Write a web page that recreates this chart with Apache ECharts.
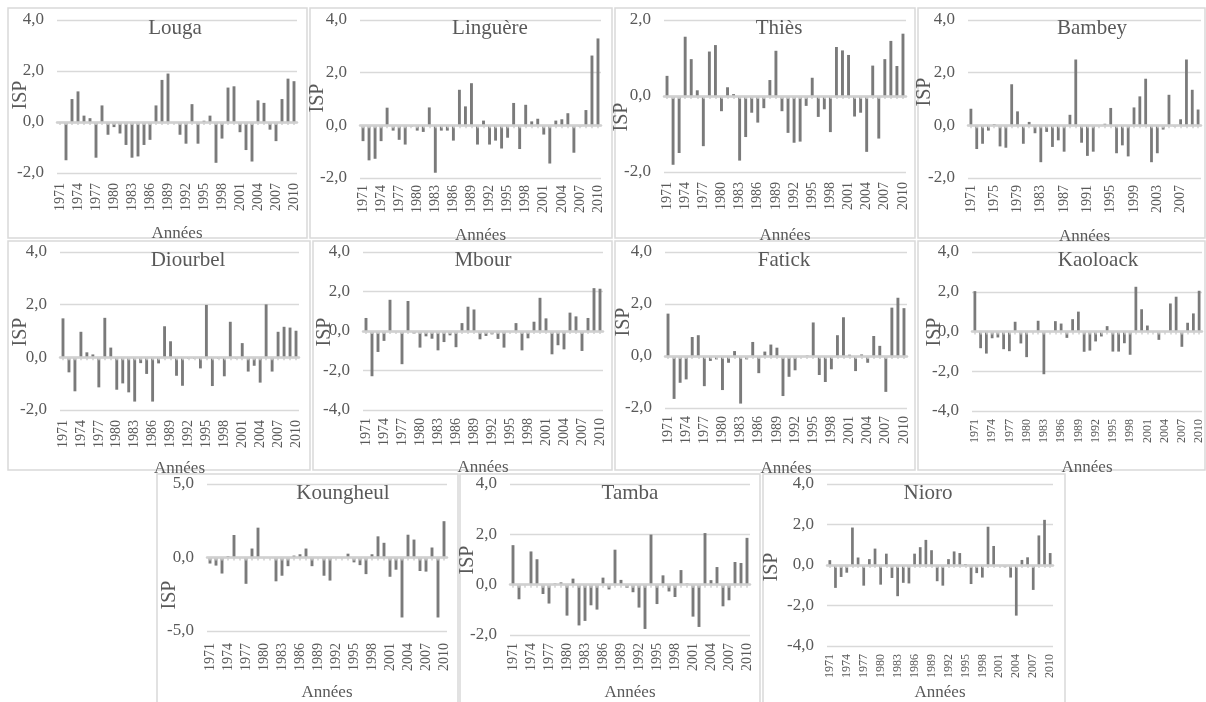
<!DOCTYPE html>
<html><head><meta charset="utf-8">
<script src="https://cdn.jsdelivr.net/npm/echarts@6/dist/echarts.min.js"></script>
<style>html,body{margin:0;padding:0;background:#fff}#c{width:1206px;height:702px}</style>
</head><body><div id="c"></div>
<script>
const years = ['1971','1972','1973','1974','1975','1976','1977','1978','1979','1980','1981','1982','1983','1984','1985','1986','1987','1988','1989','1990','1991','1992','1993','1994','1995','1996','1997','1998','1999','2000','2001','2002','2003','2004','2005','2006','2007','2008','2009','2010'];
const louga = [0.0,-1.5,0.9,1.2,0.25,0.15,-1.4,0.65,-0.5,-0.2,-0.45,-0.9,-1.4,-1.35,-0.9,-0.7,0.65,1.65,1.9,0.0,-0.5,-0.85,0.7,-0.85,0.05,0.25,-1.6,-0.65,1.35,1.4,-0.4,-1.1,-1.55,0.85,0.75,-0.3,-0.75,0.9,1.7,1.6];
const linguere = [-0.6,-1.33,-1.27,-0.6,0.67,-0.2,-0.55,-0.73,-0.05,-0.2,-0.25,0.68,-1.8,-0.2,-0.2,-0.58,1.35,0.72,1.6,-0.73,0.18,-0.73,-0.58,-0.88,-0.47,0.85,-0.9,0.78,0.15,0.25,-0.35,-1.45,0.18,0.23,0.46,-1.04,-0.05,0.58,2.65,3.3];
const thies = [0.53,-1.81,-1.5,1.56,0.97,0.15,-1.32,1.17,1.34,-0.4,0.23,0.05,-1.7,-1.08,-0.44,-0.7,-0.32,0.42,1.19,-0.4,-0.97,-1.23,-1.2,-0.26,0.48,-0.55,-0.35,-0.95,1.29,1.2,1.08,-0.54,-0.44,-1.47,0.8,-1.12,0.97,1.45,0.79,1.64];
const bambey = [0.63,-0.9,-0.7,-0.2,0.05,-0.8,-0.85,1.56,0.53,-0.7,0.13,-0.3,-1.4,-0.25,-0.82,-0.57,-1.0,0.4,2.5,-0.66,-1.16,-1.0,0.0,0.06,0.66,-1.06,-0.76,-1.18,0.68,1.1,1.77,-1.4,-1.06,-0.16,1.16,-0.05,0.23,2.5,1.35,0.6];
const diourbel = [1.48,-0.57,-1.29,0.97,0.19,0.11,-1.14,1.5,0.37,-1.23,-0.99,-1.33,-1.68,-0.22,-0.63,-1.68,-0.23,1.18,0.61,-0.7,-1.08,-0.05,-0.05,-0.42,1.99,-1.09,-0.05,-0.72,1.35,-0.05,0.54,-0.54,-0.32,-0.96,2.01,-0.54,0.97,1.16,1.13,1.01];
const mbour = [0.66,-2.29,-1.06,-0.5,1.58,0.0,-1.68,1.52,-0.13,-0.84,-0.27,-0.39,-0.98,-0.56,-0.22,-0.82,0.4,1.23,1.09,-0.42,-0.25,-0.17,-0.4,-0.84,-0.05,0.4,-0.98,-0.37,0.47,1.68,0.64,-1.18,-0.72,-0.93,0.93,0.74,-1.01,0.66,2.17,2.14];
const fatick = [1.63,-1.65,-1.03,-0.9,0.73,0.8,-1.16,-0.19,-0.13,-1.31,-0.26,0.19,-1.83,-0.13,0.54,-0.66,0.17,0.44,0.32,-1.54,-0.8,-0.55,-0.02,0.02,1.29,-0.73,-1.0,-0.51,0.8,1.49,0.05,-0.58,0.06,-0.26,0.77,0.39,-1.38,1.86,2.24,1.84];
const kaoloack = [2.03,-0.84,-1.11,-0.34,-0.3,-0.89,-0.99,0.49,-0.6,-1.29,0.0,0.54,-2.15,0.0,0.52,0.4,-0.32,0.62,1.0,-1.02,-0.96,-0.5,-0.25,0.27,-1.01,-1.01,-0.59,-1.17,2.25,1.12,0.3,0.02,-0.42,0.02,1.41,1.75,-0.77,0.44,0.91,2.05];
const koungheul = [-0.41,-0.55,-1.09,0.1,1.53,0.0,-1.79,0.61,2.03,0.0,0.0,-1.62,-1.24,-0.59,0.13,0.22,0.61,-0.59,-0.05,-1.24,-1.57,-0.03,0.0,0.26,-0.33,-0.52,-1.13,0.22,1.44,1.0,-1.31,-0.83,-4.08,1.55,1.22,-0.92,-0.96,0.68,-4.08,2.47];
const tamba = [1.57,-0.58,0.0,1.32,1.01,-0.37,-0.75,0.05,0.09,-1.23,0.24,-1.62,-1.44,-0.82,-0.99,0.28,-0.19,1.39,0.19,-0.13,-0.3,-0.91,-1.76,1.99,-0.77,0.37,-0.27,-0.49,0.58,0.05,-1.27,-1.68,2.05,0.18,0.7,-0.86,-0.62,0.9,0.86,1.86];
const nioro = [0.24,-1.13,-0.59,-0.38,1.85,0.37,-1.02,0.29,0.81,-0.97,0.56,-0.64,-1.54,-0.88,-0.91,0.56,0.88,1.24,0.73,-0.8,-1.02,0.29,0.67,0.59,0.05,-0.94,-0.4,-0.62,1.89,0.94,-0.03,-0.11,-0.62,-2.5,0.25,0.38,-1.23,1.46,2.23,0.59];
const stationNames = ['Louga','Linguère','Thiès','Bambey','Diourbel','Mbour','Fatick','Kaoloack','Koungheul','Tamba','Nioro'];
const stationData = [louga,linguere,thies,bambey,diourbel,mbour,fatick,kaoloack,koungheul,tamba,nioro];
const yAxisName = 'ISP';
const xAxisName = 'Années';

// layout (positions/sizes only)
const layout = [
  {box:[8,8,299,230],  grid:[57,20,240,153],  y:[-2,4,2], title:[175,28],  isp:[21,95],   gap:52, li:2, ls:14, lm:10},
  {box:[310,8,302,230],grid:[360,20,241,158], y:[-2,4,2], title:[490,28],  isp:[318,98],  gap:49, li:2, ls:14, lm:7},
  {box:[615,8,300,230],grid:[664,20,242,152], y:[-2,2,2], title:[779,28],  isp:[622,117], gap:55, li:2, ls:14, lm:10},
  {box:[918,8,287,230],grid:[968,20,233,158], y:[-2,4,2], title:[1092,28], isp:[925,92],  gap:50, li:3, ls:14, lm:7},
  {box:[8,241,302,229],grid:[60,252,239,158], y:[-2,4,2], title:[188,260], isp:[21,332],  gap:50, li:2, ls:14, lm:10},
  {box:[313,241,299,229],grid:[363,252,240,158],y:[-4,4,2],title:[483,260],isp:[325,332], gap:49, li:2, ls:14, lm:8},
  {box:[615,241,300,229],grid:[665,252,242,156],y:[-2,4,2],title:[784,260],isp:[624,322], gap:52, li:2, ls:14, lm:8},
  {box:[918,241,287,229],grid:[972,252,230,159],y:[-4,4,2],title:[1098,260],isp:[935,332],gap:48, li:2, ls:12, lm:8},
  {box:[157,474,301,230],grid:[207,484,240,153],y:[-5,5,5],title:[343,493],isp:[170,595], gap:53, li:2, ls:14, lm:12},
  {box:[460,474,300,230],grid:[510,484,240,159],y:[-2,4,2],title:[630,493],isp:[468,560], gap:49, li:2, ls:14, lm:8},
  {box:[763,474,302,230],grid:[827,484,226,168],y:[-4,4,2],title:[928,493],isp:[772,567], gap:38, li:2, ls:12, lm:8}
];

const FONT = '"Liberation Serif", "Times New Roman", serif';
const TXT = '#595959';
const ZERO = '#d0d0d0';
const fmt = v => v.toFixed(1).replace('.', ',');

const grids = [], xAxes = [], yAxes = [], series = [], graphics = [];
layout.forEach((L, i) => {
  graphics.push({type:'rect', shape:{x:L.box[0], y:L.box[1], width:L.box[2], height:L.box[3]},
    style:{fill:'none', stroke:'#d9d9d9', lineWidth:1.5}, silent:true, z:0});
  graphics.push({type:'text', x:L.title[0], y:L.title[1], z:10,
    style:{text:stationNames[i], align:'center', verticalAlign:'middle', font:'21px ' + FONT, fill:TXT}});
  graphics.push({type:'text', x:L.isp[0], y:L.isp[1], rotation:Math.PI/2, z:10,
    style:{text:yAxisName, align:'center', verticalAlign:'middle', font:'20px ' + FONT, fill:TXT}});
  grids.push({left:L.grid[0], top:L.grid[1], width:L.grid[2], height:L.grid[3], containLabel:false});
  // labelled axis at the bottom of the plot
  xAxes.push({type:'category', gridIndex:i, data:years, position:'bottom',
    name:xAxisName, nameLocation:'middle', nameGap:L.gap,
    nameTextStyle:{fontFamily:FONT, fontSize:17, color:TXT},
    axisLine:{show:false, onZero:false}, axisTick:{show:false},
    axisLabel:{interval:L.li, rotate:90, fontFamily:FONT, fontSize:L.ls, color:TXT, margin:L.lm}});
  // light zero line with a small marker at every year
  xAxes.push({type:'category', gridIndex:i, data:years, position:'bottom', z:5,
    axisLine:{show:true, onZero:true, lineStyle:{color:ZERO, width:2.5}},
    axisTick:{show:true, interval:0, alignWithLabel:true, length:3, lineStyle:{color:ZERO, width:1.5}},
    axisLabel:{show:false}, splitLine:{show:false}});
  yAxes.push({type:'value', gridIndex:i, min:L.y[0], max:L.y[1], interval:L.y[2],
    axisLine:{show:false}, axisTick:{show:false},
    splitLine:{lineStyle:{color:'#d9d9d9', width:1.3}},
    axisLabel:{formatter:fmt, fontFamily:FONT, fontSize:17, color:TXT, margin:13}});
  series.push({type:'bar', xAxisIndex:2*i, yAxisIndex:i, data:stationData[i], barWidth:'48%',
    itemStyle:{color:'#7a7a7a'}, silent:true, animation:false});
});

const chart = echarts.init(document.getElementById('c'), null, {renderer:'canvas'});
chart.setOption({animation:false, grid:grids, xAxis:xAxes, yAxis:yAxes, series:series, graphic:graphics});
</script></body></html>
